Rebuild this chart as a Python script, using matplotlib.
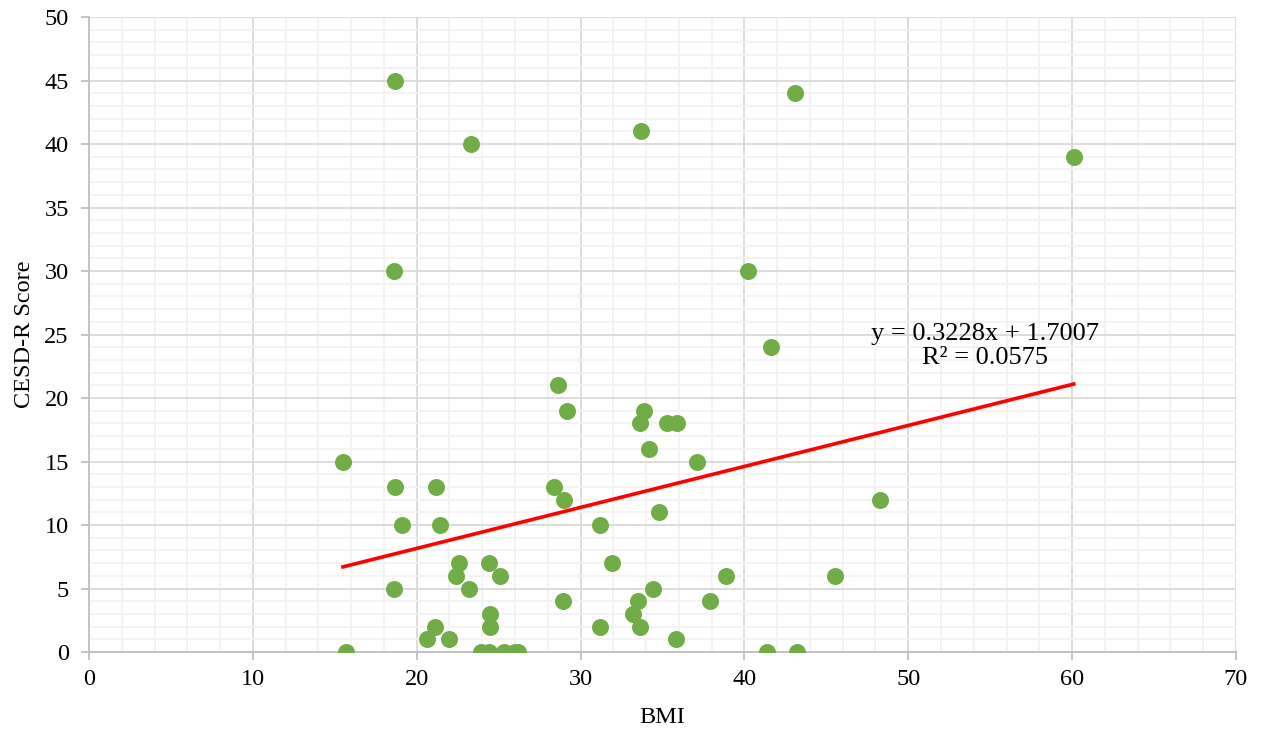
import matplotlib.pyplot as plt
from matplotlib.ticker import MultipleLocator

# =========================================================
# DATA
# =========================================================

bmi = [
    15.5, 15.7, 18.7, 18.6, 18.7, 18.6, 19.1, 23.3, 21.2, 21.4,
    20.6, 21.1, 22.0, 22.6, 22.4, 23.2, 24.4, 25.1, 24.5, 24.5,
    23.9, 24.4, 25.3, 26.0, 26.2, 28.6, 29.2, 28.4, 29.0, 28.9,
    31.2, 31.2, 31.9, 33.7, 33.6, 33.9, 34.2, 34.8, 34.4, 33.5,
    33.2, 33.6, 35.3, 35.9, 35.8, 37.1, 37.9, 38.9, 40.2, 41.6,
    41.4, 43.1, 43.2, 45.5, 48.3, 60.1,
]

cesd = [
    15, 0, 45, 30, 13, 5, 10, 40, 13, 10,
    1, 2, 1, 7, 6, 5, 7, 6, 3, 2,
    0, 0, 0, 0, 0, 21, 19, 13, 12, 4,
    10, 2, 7, 41, 18, 19, 16, 11, 5, 4,
    3, 2, 18, 18, 1, 15, 4, 6, 30, 24,
    0, 44, 0, 6, 12, 39,
]

slope = 0.3228
intercept = 1.7007
r_squared = 0.0575

# =========================================================
# CHART
# =========================================================

plt.rcParams["font.family"] = ["Liberation Serif", "DejaVu Serif"]

fig = plt.figure(figsize=(12.64, 7.34), dpi=100)
ax = fig.add_axes([0.0704, 0.1117, 0.9074, 0.8651])

ax.scatter(bmi, cesd, s=150, color="#70AD47", zorder=3, linewidths=0)

x0, x1 = min(bmi), max(bmi)
ax.plot(
    [x0, x1],
    [slope * x0 + intercept, slope * x1 + intercept],
    color="#FF0000",
    linewidth=2.6,
    zorder=4,
)

ax.text(
    54.7, 24.1,
    f"y = {slope}x + {intercept}\nR² = {r_squared}",
    ha="center", va="center", fontsize=19, linespacing=1.15, zorder=5,
)

ax.set_xlim(0, 70)
ax.set_ylim(0, 50)

ax.xaxis.set_major_locator(MultipleLocator(10))
ax.xaxis.set_minor_locator(MultipleLocator(2))
ax.yaxis.set_major_locator(MultipleLocator(5))
ax.yaxis.set_minor_locator(MultipleLocator(1))

ax.grid(which="major", color="#D9D9D9", linewidth=1.3, zorder=1)
ax.grid(which="minor", color="#F2F2F2", linewidth=1.3, zorder=0)
ax.set_axisbelow(True)

for side in ["top", "right"]:
    ax.spines[side].set_visible(False)
for side in ["left", "bottom"]:
    ax.spines[side].set_color("#BFBFBF")
    ax.spines[side].set_linewidth(1.3)

ax.tick_params(which="major", direction="out", length=5.5, width=1.3,
               color="#BFBFBF", labelsize=17.5)
ax.tick_params(axis="y", pad=9)
ax.tick_params(axis="x", pad=7)
ax.tick_params(which="minor", length=0)

ax.set_xlabel("BMI", fontsize=17.5, labelpad=12)
ax.set_ylabel("CESD-R Score", fontsize=17.5, labelpad=7)

fig.savefig("out.png", dpi=100)
